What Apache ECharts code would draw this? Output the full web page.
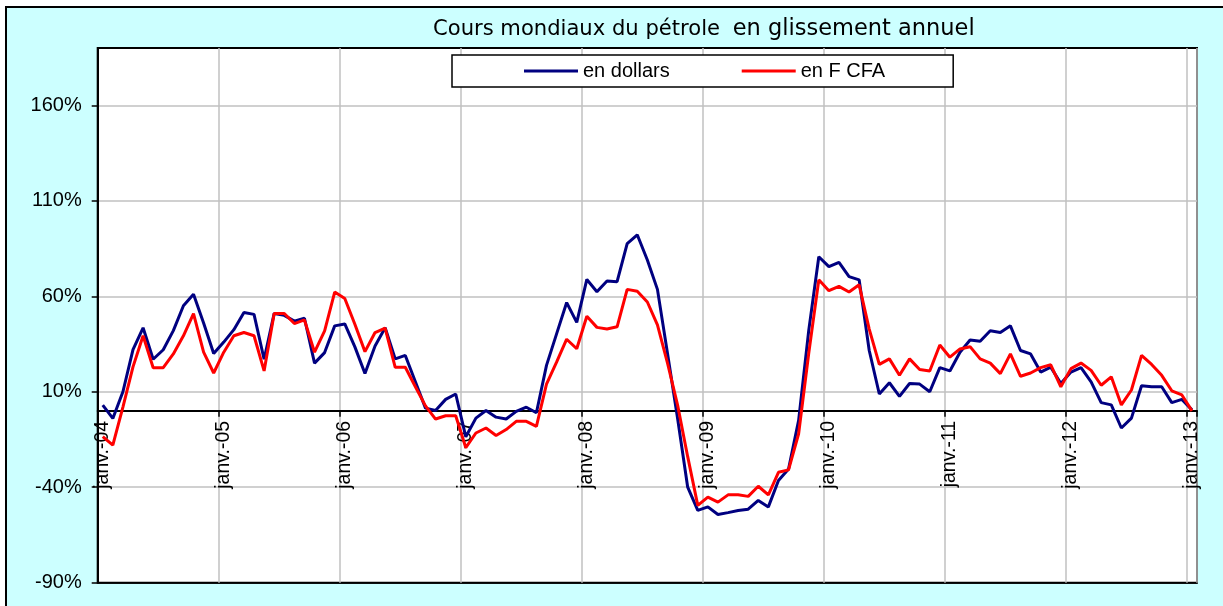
<!DOCTYPE html>
<html>
<head>
<meta charset="utf-8">
<script src="https://cdn.jsdelivr.net/npm/echarts@6/dist/echarts.min.js"></script>
<style>
  html, body { margin: 0; padding: 0; background: #fff; overflow: hidden; }
  #wrap { position: relative; width: 1223px; height: 606px; overflow: hidden; }
  #frame { position: absolute; left: 5px; top: 6px; width: 1300px; height: 700px;
           background: #CCFFFF; border: 2px solid #000; }
  #c { position: absolute; left: 0; top: 0; width: 1223px; height: 606px; }
</style>
</head>
<body>
<div id="wrap"><div id="frame"></div><div id="c"></div></div>
<script>
// ---- Data ----
const monthNames = ['janv.', 'févr.', 'mars', 'avr.', 'mai', 'juin', 'juil.', 'août', 'sept.', 'oct.', 'nov.', 'déc.'];
const years = ['04', '05', '06', '07', '08', '09', '10', '11', '12', '13'];
const categories = [];
years.forEach(function (y, yi) {
  monthNames.forEach(function (m, mi) {
    if (yi === years.length - 1 && mi > 0) return;
    categories.push(m + '-' + y);
  });
});

const yTicks = [-90, -40, 10, 60, 110, 160];

// Glissement annuel (%) - prix en dollars
const enDollars = [
  3, -4, 10, 32, 43.5, 27, 32, 42, 55, 61, 46, 30,
  36, 42.5, 51.5, 50.5, 27, 51, 50, 47, 48.5, 25, 30.5, 44.5,
  45.5, 33.5, 19.5, 34, 43.5, 27.2, 29, 15.2, 1.4, 0.2, 6, 8.8,
  -13.6, -3.8, 0.2, -3.3, -4.3, -0.3, 1.9, -1, 23.8, 40.3, 56.7, 46.3,
  68.8, 62.4, 68, 67.6, 87.6, 92.2, 79, 63.6, 30, -4, -40, -52.1,
  -50.3, -54.3, -53.3, -52.2, -51.5, -46.9, -50.3, -36.5, -30.5, -5, 42, 80.7,
  75.5, 77.8, 70.3, 68.6, 31.6, 8.8, 14.7, 7.6, 14.3, 14, 10, 22.6,
  20.9, 30.7, 37.1, 36.4, 41.9, 41, 44.5, 31.6, 29.8, 20.3, 22.9, 14.3,
  20.3, 22.6, 15.2, 4.3, 3.1, -9, -3.8, 13.1, 12.6, 12.6, 4.3, 6,
  0.5
];

// Glissement annuel (%) - prix en F CFA
const enFCFA = [
  -13.5, -18, 2, 23, 39.3, 22.6, 22.6, 29.8, 39.3, 50.9, 30.7, 19.8,
  30.7, 39.3, 41, 39.3, 20.9, 51, 51, 45.7, 47.6, 30.7, 41.9, 62.2,
  58.8, 45.3, 31, 41, 43.3, 22.8, 22.8, 12.6, 2.6, -4.3, -2.6, -2.6,
  -19.3, -11.6, -9, -12.9, -9.8, -5.5, -5.5, -8.1, 14, 25.5, 37.5, 32.5,
  49.5, 43.7, 42.9, 44, 63.6, 62.6, 57, 45, 25, 3, -24, -49.5,
  -45.2, -47.8, -44, -44, -44.8, -39.5, -44, -32.2, -30.9, -12, 30, 68.6,
  62.9, 65.2, 62.2, 66, 42.8, 24.3, 27.2, 18.6, 27.2, 21.6, 20.9, 34.5,
  28.1, 32.4, 33.6, 27.2, 25, 19.5, 29.8, 18.1, 19.8, 22.6, 24.1, 12.6,
  22.1, 25, 21.2, 13.4, 17.8, 3.1, 10.9, 29, 24.3, 18.6, 10.5, 8.3,
  0
];

const seriesNames = ['en dollars', 'en F CFA'];
const titleA = 'Cours mondiaux du pétrole';
const titleB = 'en glissement annuel';

// ---- Chart ----
const FONT = "'Liberation Sans', Arial, sans-serif";
const isJan = function (i) { return i % 12 === 0; };

const chart = echarts.init(document.getElementById('c'), null, { renderer: 'canvas' });
chart.setOption({
  animation: false,
  title: {
    text: '{a|' + titleA + '}{s|  }{b|' + titleB + '}',
    left: 433,
    top: 18,
    padding: 0,
    textStyle: {
      fontWeight: 'normal',
      rich: {
        a: { fontFamily: 'DejaVu Sans', fontSize: 21.1, fontWeight: 'normal', color: '#000' },
        s: { fontFamily: 'DejaVu Sans', fontSize: 20, fontWeight: 'normal', color: '#000' },
        b: { fontFamily: 'DejaVu Sans', fontSize: 22.5, fontWeight: 'normal', color: '#000' }
      }
    }
  },
  legend: {
    data: seriesNames,
    left: 452,
    top: 55,
    orient: 'horizontal',
    padding: [5, 68, 5, 72],
    itemGap: 72,
    itemWidth: 54,
    itemHeight: 3,
    icon: 'rect',
    backgroundColor: '#fff',
    borderColor: '#000',
    borderWidth: 1.5,
    textStyle: { fontFamily: FONT, fontSize: 20, color: '#000', lineHeight: 22 }
  },
  grid: {
    left: 97.7, top: 48, right: 26, bottom: 23.3,
    outerBoundsMode: 'none',
    show: true, backgroundColor: '#fff', borderColor: '#000', borderWidth: 2,
    containLabel: false
  },
  xAxis: {
    type: 'category',
    data: categories,
    boundaryGap: true,
    offset: 0,
    axisLine: { show: true, onZero: false, lineStyle: { color: '#000', width: 2 } },
    axisTick: { show: true, interval: isJan, length: 6, lineStyle: { color: '#000', width: 1.5 } },
    axisLabel: {
      interval: isJan, rotate: 90, margin: 10,
      fontFamily: FONT, fontSize: 19.5, color: '#000'
    },
    splitLine: { show: true, interval: isJan, lineStyle: { color: '#C0C0C0', width: 1.5 } }
  },
  yAxis: {
    type: 'value',
    min: -90,
    max: 190,
    axisLine: { show: true, lineStyle: { color: '#000', width: 2 } },
    axisTick: { show: true, customValues: yTicks, length: 6, lineStyle: { color: '#000', width: 1.5 } },
    axisLabel: {
      customValues: yTicks,
      formatter: function (v) { return v + '%'; },
      margin: 16, fontFamily: FONT, fontSize: 20, color: '#000'
    },
    splitLine: {
      show: true,
      lineStyle: { color: ['#000', '#C0C0C0', '#C0C0C0', '#C0C0C0', '#C0C0C0', '#C0C0C0'], width: 1.5 }
    }
  },
  series: [
    {
      name: seriesNames[0], type: 'line', data: enDollars,
      symbol: 'none', lineStyle: { color: '#000080', width: 3 }, itemStyle: { color: '#000080' },
      z: 2
    },
    {
      name: seriesNames[1], type: 'line', data: enFCFA,
      symbol: 'none', lineStyle: { color: '#FF0000', width: 3 }, itemStyle: { color: '#FF0000' },
      z: 3
    }
  ]
});

// Place the category axis (line, ticks, labels) on the 0% level using the value scale.
const zeroPx = chart.convertToPixel({ yAxisIndex: 0 }, 0);
const minPx = chart.convertToPixel({ yAxisIndex: 0 }, yTicks[0]);
chart.setOption({ xAxis: { offset: zeroPx - minPx } });
</script>
</body>
</html>
